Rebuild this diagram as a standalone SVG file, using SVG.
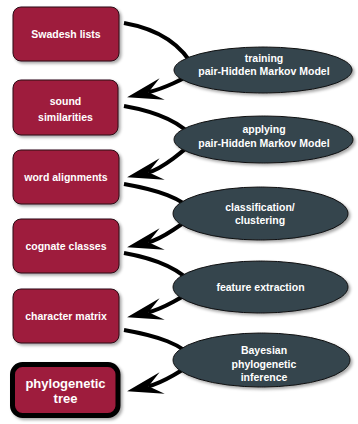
<svg xmlns="http://www.w3.org/2000/svg" width="358" height="424" viewBox="0 0 358 424">
<defs>
<filter id="sh" x="-10%" y="-10%" width="130%" height="140%">
<feDropShadow dx="2" dy="2" stdDeviation="1.5" flood-color="#000" flood-opacity="0.35"/>
</filter>
<marker id="arr" markerUnits="userSpaceOnUse" orient="auto" viewBox="-40 -14 44 28" markerWidth="44" markerHeight="28" refX="-22" refY="0">
<path d="M0,0 L-36,-11 L-22,0 L-36,11 Z" fill="#000"/>
</marker>
</defs>
<style>
.box{fill:#9e1a3c;stroke:#2a0a14;stroke-width:1;filter:url(#sh)}
.ell{fill:#34444e;stroke:#111;stroke-width:1;filter:url(#sh)}
.t{font-family:"Liberation Sans",Arial,sans-serif;font-weight:bold;font-size:10.5px;fill:#fff;text-anchor:middle}
.big{font-size:13px}
.c{fill:none;stroke:#000;stroke-width:4}
.a{marker-end:url(#arr)}
</style>
<rect width="358" height="424" fill="#fff"/>
<g id="connectors">
<path class="c" d="M124,23 C158,29 182,44 195,70"/>
<path class="c a" d="M195,70 C186,79 162,89 148.5,92.2"/>
<path class="c" d="M124,106 C158,112 182,122 195,140"/>
<path class="c a" d="M195,140 C186,149 162,169 148.5,172.2"/>
<path class="c" d="M124,184 C158,190 182,198 195,213"/>
<path class="c a" d="M195,213 C186,222 162,239 148.5,242.2"/>
<path class="c" d="M124,253 C158,259 182,270 195,287"/>
<path class="c a" d="M195,287 C186,296 162,309 148.5,312.2"/>
<path class="c" d="M124,330 C158,336 182,344 195,360"/>
<path class="c a" d="M195,360 C186,369 162,383 148.5,386.2"/>
</g>
<g id="swadesh">
<rect class="box" x="13" y="7" width="106" height="54" rx="8"/>
<text class="t" x="66" y="38">Swadesh lists</text>
</g>
<g id="sound">
<rect class="box" x="13" y="80" width="105" height="55" rx="8"/>
<text class="t" x="65.5" y="105">sound</text>
<text class="t" x="65.5" y="120.5">similarities</text>
</g>
<g id="word">
<rect class="box" x="13" y="150" width="106" height="54" rx="8"/>
<text class="t" x="66" y="180.5">word alignments</text>
</g>
<g id="cognate">
<rect class="box" x="13" y="219" width="106" height="54" rx="8"/>
<text class="t" x="66" y="249.5">cognate classes</text>
</g>
<g id="character">
<rect class="box" x="13" y="289" width="106" height="54" rx="8"/>
<text class="t" x="66" y="320">character matrix</text>
</g>
<g id="tree">
<rect x="12.5" y="364.5" width="105.5" height="51" rx="10" fill="#9e1a3c" stroke="#000" stroke-width="5" filter="url(#sh)"/>
<text class="t big" x="65.5" y="387.5">phylogenetic</text>
<text class="t big" x="65.5" y="403">tree</text>
</g>
<g id="training">
<ellipse class="ell" cx="263" cy="70" rx="89" ry="23"/>
<text class="t" x="264" y="61.5">training</text>
<text class="t" x="264" y="75">pair-Hidden Markov Model</text>
</g>
<g id="applying">
<ellipse class="ell" cx="263.5" cy="139.5" rx="89.5" ry="23.5"/>
<text class="t" x="264" y="133">applying</text>
<text class="t" x="264" y="146.5">pair-Hidden Markov Model</text>
</g>
<g id="classification">
<ellipse class="ell" cx="260.5" cy="213.5" rx="87.5" ry="26.5"/>
<text class="t" x="260" y="210.5">classification/</text>
<text class="t" x="260" y="224">clustering</text>
</g>
<g id="feature">
<ellipse class="ell" cx="260.5" cy="287" rx="87.5" ry="26"/>
<text class="t" x="260.5" y="290.5">feature extraction</text>
</g>
<g id="bayesian">
<ellipse class="ell" cx="261.5" cy="360" rx="88.5" ry="27"/>
<text class="t" x="264" y="354">Bayesian</text>
<text class="t" x="264" y="367.5">phylogenetic</text>
<text class="t" x="264" y="381">inference</text>
</g>
</svg>
